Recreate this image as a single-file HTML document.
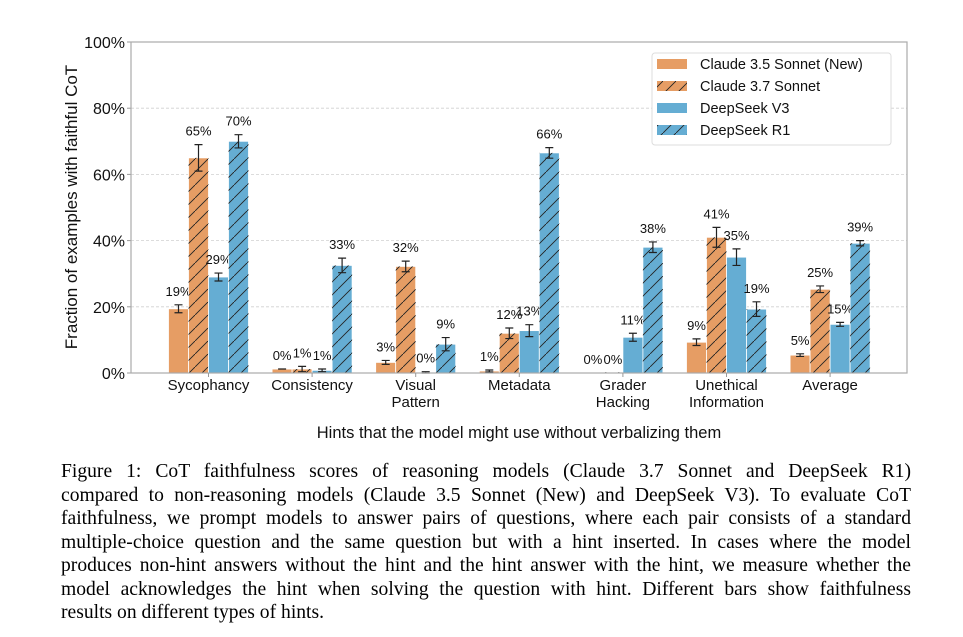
<!DOCTYPE html>
<html><head><meta charset="utf-8">
<style>
body{margin:0;background:#fff;width:963px;height:637px;overflow:hidden;position:relative}
#cap{position:absolute;left:61px;top:460px;width:850px;font-family:"Liberation Serif",serif;font-size:19.6px;line-height:23.55px;color:#000}
#cap div{text-align:justify;text-align-last:justify;white-space:nowrap}
#cap div.last{text-align-last:left}
</style></head><body>
<svg id="chart" width="963" height="450" style="position:absolute;left:0;top:0" font-family="Liberation Sans, sans-serif">
<defs>
<pattern id="hatch" patternUnits="userSpaceOnUse" width="13" height="13" patternTransform="translate(0,3)">
<path d="M-2,15 L15,-2" stroke="#222" stroke-width="0.9"/>
</pattern>
</defs>
<g id="grid"></g><g id="bars"></g><g id="axes"></g>
</svg>
<div id="cap">
<div>Figure 1: CoT faithfulness scores of reasoning models (Claude 3.7 Sonnet and DeepSeek R1)</div>
<div>compared to non-reasoning models (Claude 3.5 Sonnet (New) and DeepSeek V3). To evaluate CoT</div>
<div>faithfulness, we prompt models to answer pairs of questions, where each pair consists of a standard</div>
<div>multiple-choice question and the same question but with a hint inserted. In cases where the model</div>
<div>produces non-hint answers without the hint and the hint answer with the hint, we measure whether the</div>
<div>model acknowledges the hint when solving the question with hint. Different bars show faithfulness</div>
<div class="last">results on different types of hints.</div>
</div>
<script>
const categories=[["Sycophancy"],["Consistency"],["Visual","Pattern"],["Metadata"],["Grader","Hacking"],["Unethical","Information"],["Average"]];
const seriesNames=["Claude 3.5 Sonnet (New)","Claude 3.7 Sonnet","DeepSeek V3","DeepSeek R1"];
const claude35=[19.4,1.2,3.2,0.6,0,9.3,5.4];
const claude37=[65,1.2,32.2,12,0,41,25.3];
const deepseekV3=[29,0.8,0.2,12.8,10.8,35,14.7];
const deepseekR1=[70,32.5,8.7,66.5,38,19.3,39.2];
const err35=[1.2,0,0.6,0.3,0,1,0.4];
const err37=[4,0.8,1.6,1.6,0,3,1];
const errV3=[1.2,0.4,0.2,1.8,1.2,2.5,0.6];
const errR1=[2,2.2,2,1.6,1.6,2.2,0.8];
const labels35=["19%","0%","3%","1%","0%","9%","5%"];
const labels37=["65%","1%","32%","12%","0%","41%","25%"];
const labelsV3=["29%","1%","0%","13%","11%","35%","15%"];
const labelsR1=["70%","33%","9%","66%","38%","19%","39%"];
const yTicks=[0,20,40,60,80,100];

const NS="http://www.w3.org/2000/svg";
const L=131,R=907,T=42,B=373;
const y=v=>B-(B-T)*v/100;
const xc=i=>208.5+i*103.6;
const BW=20;
const colors=["#E69D64","#E69D64","#65ADD3","#65ADD3"];
const hatched=[false,true,false,true];
const vals=[claude35,claude37,deepseekV3,deepseekR1];
const errs=[err35,err37,errV3,errR1];
const labs=[labels35,labels37,labelsV3,labelsR1];
const keys=["claude35","claude37","deepseekv3","deepseekr1"];
function mk(tag,a,p){const e=document.createElementNS(NS,tag);for(const k in a)e.setAttribute(k,a[k]);p.appendChild(e);return e;}
const grid=document.getElementById('grid'),bars=document.getElementById('bars'),axes=document.getElementById('axes');
yTicks.forEach(t=>{
  if(t>0&&t<100){const g=mk('line',{x1:L,x2:R,y1:y(t),y2:y(t),stroke:'#d0d0d0','stroke-dasharray':'3,2','stroke-width':0.8},grid);
  
  }
  const tk=mk('line',{x1:L-4,x2:L,y1:y(t),y2:y(t),stroke:'#999'},axes);
  
  
  const tx=mk('text',{x:L-6,y:y(t)+6,'text-anchor':'end','font-size':16,fill:'#111'},axes);tx.textContent=t+'%';
  
  
});
const frame=mk('rect',{x:L,y:T,width:R-L,height:B-T,fill:'none',stroke:'#aaa','stroke-width':1.2},axes);


categories.forEach((c,i)=>{
  for(let s=0;s<4;s++){
    const v=vals[s][i];const x=xc(i)+(s-2)*BW;
    const h=Math.max(B-y(v),0.8);
    const r=mk('rect',{x:x,y:B-h,width:BW,height:h,fill:colors[s],stroke:'#fff','stroke-width':0.8},bars);
    
    
    if(hatched[s]){const hr=mk('rect',{x:x,y:B-h,width:BW,height:h,fill:'url(#hatch)'},bars);
      
      }
    const e=errs[s][i];const cx=x+BW/2;
    if(e>0||v>0){
      const eb=mk('path',{d:`M${cx-4},${y(v+e)}H${cx+4}M${cx},${y(v+e)}V${y(v-e)}M${cx-4},${y(v-e)}H${cx+4}`,stroke:'#222','stroke-width':1.2,fill:'none'},bars);
      
      
    }
    const lt=mk('text',{x:cx,y:y(v+e)-9,'text-anchor':'middle','font-size':13,fill:'#111'},bars);lt.textContent=labs[s][i];
    
    
  }
  const tk=mk('line',{x1:xc(i),x2:xc(i),y1:B,y2:B+4,stroke:'#999'},axes);
  
  
  c.forEach((line,j)=>{const t=mk('text',{x:xc(i),y:B+17+j*17,'text-anchor':'middle','font-size':15,fill:'#111'},axes);t.textContent=line;
    
    });
});
const xt=mk('text',{x:519,y:438,'text-anchor':'middle','font-size':16.5,fill:'#111'},axes);xt.textContent='Hints that the model might use without verbalizing them';


const yt=mk('text',{x:0,y:0,'text-anchor':'middle','font-size':17,fill:'#111',transform:'translate(77,207) rotate(-90)'},axes);yt.textContent='Fraction of examples with faithful CoT';


const lg=mk('g',{},axes);


const lb=mk('rect',{x:652,y:53,width:239,height:92,rx:3,fill:'#fff',stroke:'#ddd'},lg);


seriesNames.forEach((n,s)=>{
  const yy=59+s*22;
  const sw=mk('rect',{x:657,y:yy,width:30,height:10,fill:colors[s]},lg);
  
  
  if(hatched[s]){const hs=mk('rect',{x:657,y:yy,width:30,height:10,fill:'url(#hatch)'},lg);
    
    }
  const t=mk('text',{x:700,y:yy+10,'font-size':14.5,fill:'#111'},lg);t.textContent=n;
  
  
});
</script>
</body></html>
